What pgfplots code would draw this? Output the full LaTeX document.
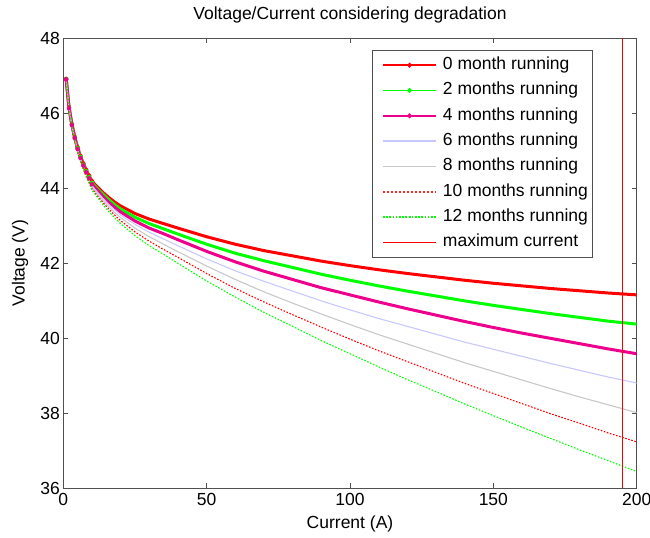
\documentclass[border=0pt]{standalone}
\usepackage{fontspec}
\setmainfont{Liberation Sans}
\usepackage{pgfplots}
\pgfplotsset{compat=1.18}
\usepackage{pgfplotstable}

\definecolor{lav}{RGB}{200,200,255}
\definecolor{lgray}{RGB}{200,200,200}
\definecolor{axgray}{RGB}{80,80,80}

\pgfplotstableread{
I   m0    m2    m4    m6    m8    m10   m12
1   46.91 46.91 46.90 46.90 46.89 46.89 46.89
2   46.15 46.14 46.13 46.13 46.12 46.11 46.10
3   45.70 45.69 45.68 45.66 45.65 45.64 45.63
4   45.36 45.34 45.33 45.31 45.30 45.28 45.27
5   45.08 45.06 45.04 45.02 45.00 44.98 44.96
6   44.85 44.83 44.80 44.78 44.76 44.73 44.71
7   44.65 44.62 44.60 44.57 44.54 44.51 44.49
8   44.48 44.45 44.42 44.39 44.35 44.32 44.29
9   44.33 44.29 44.26 44.22 44.19 44.15 44.12
10  44.18 44.14 44.10 44.06 44.02 43.98 43.94
12  44.02 43.97 43.93 43.88 43.83 43.78 43.74
14  43.87 43.82 43.76 43.71 43.65 43.60 43.54
16  43.74 43.68 43.61 43.55 43.49 43.43 43.36
18  43.62 43.55 43.48 43.41 43.34 43.27 43.20
20  43.52 43.44 43.36 43.28 43.21 43.13 43.05
25  43.32 43.22 43.12 43.03 42.93 42.83 42.73
30  43.17 43.05 42.93 42.82 42.70 42.58 42.46
35  43.05 42.91 42.78 42.64 42.50 42.36 42.23
40  42.93 42.77 42.62 42.46 42.30 42.15 41.99
50  42.70 42.50 42.31 42.11 41.92 41.72 41.52
60  42.50 42.26 42.03 41.79 41.56 41.32 41.09
70  42.33 42.06 41.78 41.51 41.23 40.96 40.68
80  42.19 41.88 41.56 41.25 40.93 40.62 40.31
90  42.05 41.70 41.34 40.99 40.64 40.29 39.93
100 41.93 41.54 41.15 40.75 40.36 39.97 39.58
110 41.82 41.39 40.96 40.52 40.09 39.66 39.23
120 41.72 41.25 40.78 40.31 39.84 39.37 38.89
130 41.63 41.12 40.61 40.10 39.59 39.08 38.57
140 41.54 40.99 40.44 39.89 39.34 38.79 38.24
150 41.46 40.87 40.28 39.70 39.11 38.52 37.93
160 41.39 40.76 40.13 39.51 38.88 38.25 37.62
170 41.32 40.65 39.99 39.32 38.65 37.98 37.32
180 41.26 40.55 39.85 39.14 38.43 37.73 37.02
190 41.20 40.45 39.71 38.96 38.22 37.47 36.73
200 41.15 40.37 39.58 38.80 38.01 37.23 36.44
}\data

\newcommand{\chartfont}{\fontsize{17.5bp}{21bp}\selectfont}

\begin{document}
\begin{tikzpicture}
\begin{axis}[
  scale only axis,
  width=573.4bp, height=450bp,
  xmin=0, xmax=200, ymin=36, ymax=48,
  xtick={0,50,100,150,200},
  ytick={36,38,40,42,44,46,48},
  tick align=inside,
  major tick length=5bp,
  axis line style={axgray, line width=0.8bp},
  every tick/.style={axgray, line width=0.8bp},
  ticklabel style={font=\chartfont},
  xticklabel style={yshift=-2bp},
  /pgf/number format/assume math mode=true,
  title={Voltage/Current considering degradation},
  title style={at={(axis description cs:0.5,1.037)}, anchor=center, font=\chartfont},
  xlabel={Current (A)},
  xlabel style={at={(axis description cs:0.5,-0.0796)}, anchor=center, font=\chartfont},
  ylabel={Voltage (V)},
  ylabel style={at={(axis description cs:-0.0755,0.5)}, anchor=center, font=\chartfont},
  legend style={
    at={(axis description cs:0.538,0.973)}, anchor=north west,
    draw=axgray, line width=0.8bp, fill=white,
    inner xsep=4bp, inner ysep=2bp,
    font=\chartfont,
    nodes={inner xsep=0bp, inner ysep=3.9bp, text height=13.1bp, text depth=4.4bp},
    cells={anchor=west},
    /tikz/every odd column/.append style={column sep=6bp},
  },
  legend image code/.code={%
    \path (0bp,0bp) (59bp,0bp);
    \draw[mark repeat=2, mark phase=2, #1] plot coordinates {(6bp,0bp) (32.5bp,0bp) (59bp,0bp)};
  },
]
\addplot[forget plot, red, line width=3bp] table[x=I, y=m0] {\data};
\addplot[forget plot, only marks, red, mark=*, mark size=2bp, restrict x to domain=0:10.5] table[x=I, y=m0] {\data};
\addplot[forget plot, green, line width=3bp] table[x=I, y=m2] {\data};
\addplot[forget plot, only marks, green, mark=*, mark size=2bp, restrict x to domain=0:10.5] table[x=I, y=m2] {\data};
\addplot[forget plot, magenta, line width=3bp] table[x=I, y=m4] {\data};
\addplot[forget plot, only marks, magenta, mark=*, mark size=2bp, restrict x to domain=0:10.5] table[x=I, y=m4] {\data};
\addplot[forget plot, lav, line width=1.1bp] table[x=I, y=m6] {\data};
\addplot[forget plot, lgray, line width=1.1bp] table[x=I, y=m8] {\data};
\addplot[forget plot, red, line width=1.1bp, dash pattern=on 1.6bp off 1.6bp] table[x=I, y=m10] {\data};
\addplot[forget plot, green, line width=1.1bp, dash pattern=on 1.6bp off 1.6bp] table[x=I, y=m12] {\data};
\addplot[forget plot, red, line width=1.1bp] coordinates {(195,36) (195,48)};

\addlegendimage{red, line width=1.5bp, mark=*, mark size=1.6bp}
\addlegendentry{0 month running}
\addlegendimage{green, line width=1.5bp, mark=*, mark size=1.6bp}
\addlegendentry{2 months running}
\addlegendimage{magenta, line width=1.5bp, mark=*, mark size=1.6bp}
\addlegendentry{4 months running}
\addlegendimage{lav, line width=1.5bp}
\addlegendentry{6 months running}
\addlegendimage{lgray, line width=1.5bp}
\addlegendentry{8 months running}
\addlegendimage{red!85!white, line width=1.8bp, dash pattern=on 2bp off 2bp}
\addlegendentry{10 months running}
\addlegendimage{green, line width=1.5bp, dash pattern=on 1.6bp off 1.6bp}
\addlegendentry{12 months running}
\addlegendimage{red, line width=1.5bp}
\addlegendentry{maximum current}
\end{axis}
\pgfresetboundingbox
\path[use as bounding box] ([shift={(-63.3bp,-50bp)}]current axis.south west) rectangle ([shift={(13.3bp,38bp)}]current axis.north east);
\end{tikzpicture}
\end{document}
